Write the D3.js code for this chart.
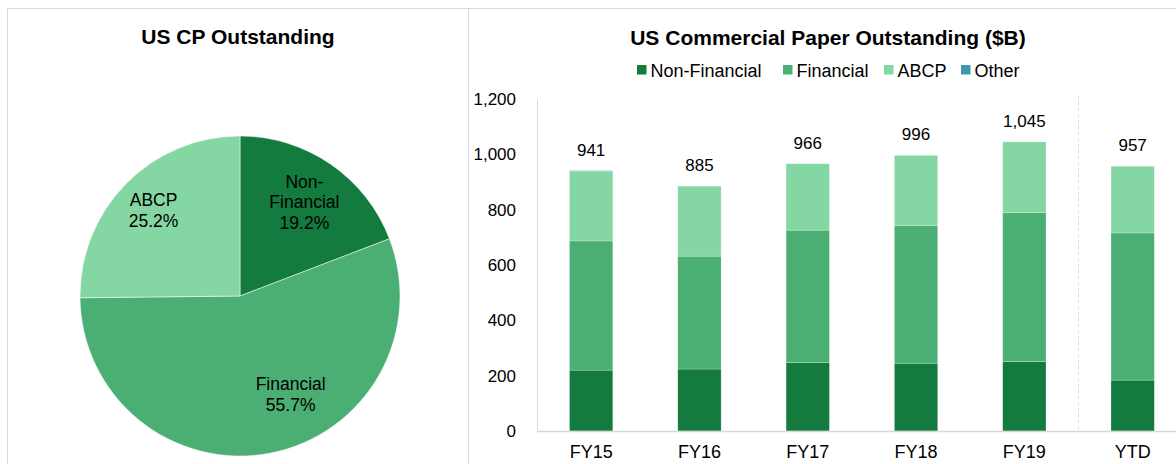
<!DOCTYPE html>
<html>
<head>
<meta charset="utf-8">
<script src="https://cdn.jsdelivr.net/npm/d3@7"></script>
<style>
  body { margin: 0; background: #fff; }
  svg { display: block; font-family: Arial, "Liberation Sans", sans-serif; }
</style>
</head>
<body>
<svg id="main-svg"></svg>
<script>
// DATA
const pieLabels = ["Non-Financial", "Financial", "ABCP"]
const pieLabelLines = [["Non-", "Financial"], ["Financial"], ["ABCP"]]
const pieShares = [19.2, 55.7, 25.2]

const categories = ["FY15", "FY16", "FY17", "FY18", "FY19", "YTD"]
const seriesNames = ["Non-Financial", "Financial", "ABCP", "Other"]
const nonFinancial = [220, 224, 248, 245, 251, 184]
const financial = [467, 408, 478, 498, 538, 532]
const abcp = [252, 253, 240, 253, 256, 241]
const other = [2, 0, 0, 0, 0, 0]
const yTicks = [0, 200, 400, 600, 800, 1000, 1200]

// SPACING
const CANVAS_WIDTH = 1176
const CANVAS_HEIGHT = 464
const FRAME_TOP = 8
const FRAME_LEFT = 7
const PANEL_SPLIT_X = 468
const PIE_CX = 240
const PIE_CY = 296
const PIE_RADIUS = 160
const PIE_LABEL_RADIUS = [0.71, 0.69, 0.76] // fraction of radius, per slice
const PIE_LABEL_NUDGE = [[0, 0], [30, -10], [0, 0]] // px
const PLOT_LEFT = 537
const PLOT_TOP = 99
const PLOT_BOTTOM = 431
const BAND_STEP = 108.3
const SEPARATOR_TOP = 96

// STYLE
const COLORS = ["#137B3E", "#4BAE72", "#84D7A2", "#3F97AA"]
const GRID_COLOR = "#d9d9d9"
const TEXT_COLOR = "#000"

const svg = d3.select("#main-svg")
  .attr("width", CANVAS_WIDTH)
  .attr("height", CANVAS_HEIGHT)

// frame
svg.append("line")
  .attr("x1", FRAME_LEFT).attr("x2", CANVAS_WIDTH)
  .attr("y1", FRAME_TOP + 0.5).attr("y2", FRAME_TOP + 0.5)
  .attr("stroke", GRID_COLOR)
;[FRAME_LEFT, PANEL_SPLIT_X].forEach(x => {
  svg.append("line")
    .attr("x1", x + 0.5).attr("x2", x + 0.5)
    .attr("y1", FRAME_TOP).attr("y2", CANVAS_HEIGHT)
    .attr("stroke", GRID_COLOR)
})

// PIE
svg.append("text")
  .attr("x", 238).attr("y", 44)
  .attr("text-anchor", "middle")
  .attr("font-size", 21).attr("font-weight", "bold")
  .attr("fill", TEXT_COLOR)
  .text("US CP Outstanding")

const pie = d3.pie().sort(null).value(d => d)
const arc = d3.arc().innerRadius(0).outerRadius(PIE_RADIUS)
const pieData = pie(pieShares)

const pieGroup = svg.append("g").attr("transform", `translate(${PIE_CX},${PIE_CY})`)
pieGroup.selectAll("path")
  .data(pieData)
  .join("path")
  .attr("d", arc)
  .attr("fill", (_, i) => COLORS[i])
  .attr("stroke", "#fff")
  .attr("stroke-width", 0.5)

const pieLabelGroups = pieGroup.selectAll("g.label")
  .data(pieData)
  .join("g")
  .attr("class", "label")
  .attr("transform", (d, i) => {
    const r = PIE_RADIUS * PIE_LABEL_RADIUS[i]
    const [x, y] = d3.arc().innerRadius(r).outerRadius(r).centroid(d)
    return `translate(${x + PIE_LABEL_NUDGE[i][0]},${y + PIE_LABEL_NUDGE[i][1]})`
  })

pieLabelGroups.each(function (d, i) {
  const lines = pieLabelLines[i].concat([d.data.toFixed(1) + "%"])
  const lineHeight = 20.7
  const t = d3.select(this).append("text")
    .attr("text-anchor", "middle")
    .attr("font-size", 17.5)
    .attr("fill", TEXT_COLOR)
  lines.forEach((line, j) => {
    t.append("tspan")
      .attr("x", 0)
      .attr("y", (j - (lines.length - 1) / 2) * lineHeight + 6)
      .text(line)
  })
})

// STACKED BARS
svg.append("text")
  .attr("x", 828).attr("y", 45)
  .attr("text-anchor", "middle")
  .attr("font-size", 21).attr("font-weight", "bold")
  .attr("fill", TEXT_COLOR)
  .text("US Commercial Paper Outstanding ($B)")

// legend
const legendX = [637, 783, 884, 961]
const legend = svg.append("g")
  .selectAll("g")
  .data(seriesNames)
  .join("g")
  .attr("transform", (_, i) => `translate(${legendX[i]},70)`)
legend.append("rect")
  .attr("x", 0).attr("y", -5)
  .attr("width", 9.5).attr("height", 9.5)
  .attr("fill", (_, i) => COLORS[i])
legend.append("text")
  .attr("x", 13.5).attr("y", 6.5)
  .attr("font-size", 18)
  .attr("fill", TEXT_COLOR)
  .text(d => d)

const tableRows = categories.map((c, i) => ({
  category: c,
  "Non-Financial": nonFinancial[i],
  "Financial": financial[i],
  "ABCP": abcp[i],
  "Other": other[i],
}))
const stacked = d3.stack().keys(seriesNames)(tableRows)

const x = d3.scaleBand()
  .domain(categories)
  .range([PLOT_LEFT, PLOT_LEFT + BAND_STEP * categories.length])
  .paddingInner(0.6)
  .paddingOuter(0.3)

const y = d3.scaleLinear()
  .domain([0, 1200])
  .range([PLOT_BOTTOM, PLOT_TOP])

// y axis
const yAxis = svg.append("g")
  .attr("transform", `translate(${PLOT_LEFT},0)`)
  .call(d3.axisLeft(y).tickValues(yTicks).tickFormat(d3.format(",")).tickSize(0).tickPadding(21))
yAxis.select(".domain").attr("stroke", GRID_COLOR)
yAxis.selectAll("text")
  .attr("font-size", 17)
  .attr("font-family", "Arial, 'Liberation Sans', sans-serif")
  .attr("fill", TEXT_COLOR)

// separator before YTD
const sepX = x("YTD") - x.step() * x.paddingInner() / 2
svg.append("line")
  .attr("x1", sepX).attr("x2", sepX)
  .attr("y1", SEPARATOR_TOP).attr("y2", PLOT_BOTTOM)
  .attr("stroke", GRID_COLOR)
  .attr("stroke-dasharray", "3,3")

svg.append("g")
  .selectAll("g")
  .data(stacked)
  .join("g")
  .attr("fill", (_, i) => COLORS[i])
  .selectAll("rect")
  .data(d => d)
  .join("rect")
  .attr("x", d => x(d.data.category))
  .attr("y", d => y(d[1]))
  .attr("width", x.bandwidth())
  .attr("height", d => y(d[0]) - y(d[1]))
  .attr("stroke", "#fff")
  .attr("stroke-opacity", 0.4)
  .attr("stroke-width", 0.6)

// x axis
const xAxis = svg.append("g")
  .attr("transform", `translate(0,${PLOT_BOTTOM})`)
  .call(d3.axisBottom(x).tickSize(0).tickPadding(14))
xAxis.select(".domain")
  .attr("d", `M${PLOT_LEFT},0.5H${CANVAS_WIDTH}`)
  .attr("stroke", GRID_COLOR)
  .attr("stroke-width", 1.5)
xAxis.selectAll("text")
  .attr("font-size", 18)
  .attr("font-family", "Arial, 'Liberation Sans', sans-serif")
  .attr("fill", TEXT_COLOR)

// totals
const totals = categories.map((_, i) => nonFinancial[i] + financial[i] + abcp[i] + other[i])
svg.append("g")
  .selectAll("text")
  .data(totals)
  .join("text")
  .attr("x", (_, i) => x(categories[i]) + x.bandwidth() / 2)
  .attr("y", d => y(d) - 15)
  .attr("text-anchor", "middle")
  .attr("font-size", 17)
  .attr("fill", TEXT_COLOR)
  .text(d => d3.format(",")(d))
</script>
</body>
</html>
